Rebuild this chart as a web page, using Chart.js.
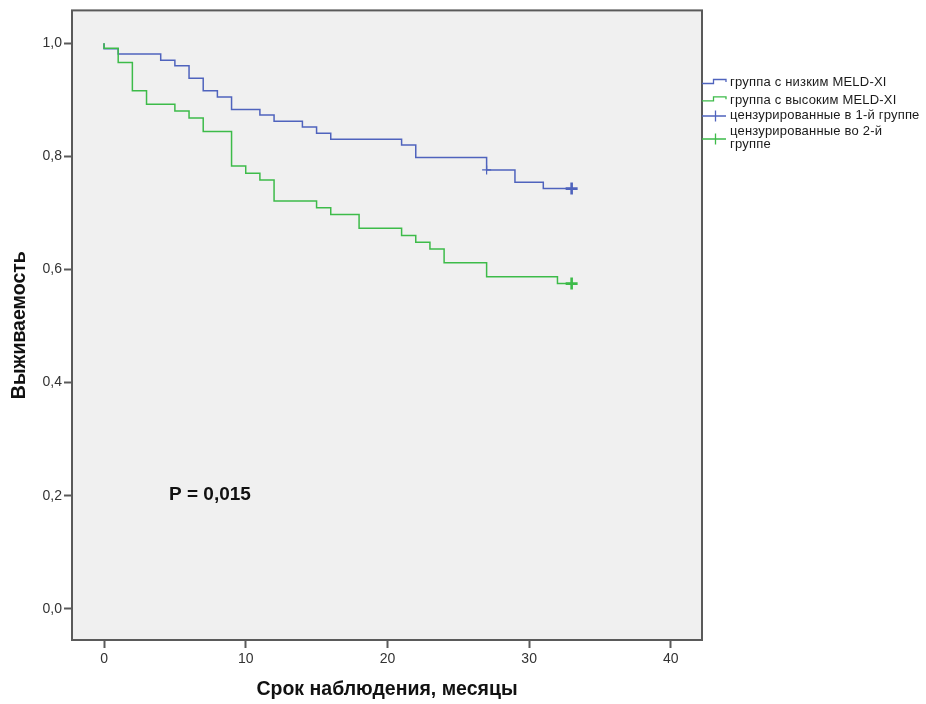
<!DOCTYPE html>
<html lang="ru">
<head>
<meta charset="utf-8">
<title>Выживаемость</title>
<script src="https://cdn.jsdelivr.net/npm/chart.js@4/dist/chart.umd.min.js"></script>
<style>
  html, body { margin: 0; padding: 0; background: #ffffff; }
  #wrap { width: 926px; height: 704px; }
</style>
</head>
<body>
<div id="wrap"><canvas id="km" width="926" height="704"></canvas></div>
<script>
// Kaplan–Meier estimates: event times (months) and survival after each step
const lowTimes  = [0, 0, 1, 4, 5, 6, 7, 8, 9, 11, 12, 14, 15, 16, 21, 22, 27, 29, 31, 33];
const lowSurv   = [1.0, 0.990, 0.981, 0.970, 0.960, 0.938, 0.916, 0.905, 0.883, 0.873, 0.862, 0.852, 0.841, 0.830, 0.820, 0.798, 0.776, 0.754, 0.743, 0.743];

const highTimes = [0, 0, 1, 2, 3, 5, 6, 7, 9, 10, 11, 12, 15, 16, 18, 21, 22, 23, 24, 27, 32, 33];
const highSurv  = [1.0, 0.991, 0.966, 0.916, 0.892, 0.880, 0.868, 0.844, 0.783, 0.770, 0.758, 0.721, 0.709, 0.697, 0.673, 0.660, 0.648, 0.636, 0.612, 0.587, 0.575, 0.575];

// censored observations
const censLowTimes  = [27, 33];
const censLowSurv   = [0.776, 0.743];
const censHighTimes = [33];
const censHighSurv  = [0.575];

const xTickValues = [0, 10, 20, 30, 40];
const yTickValues = [0, 0.2, 0.4, 0.6, 0.8, 1.0];

const legendLabels = [
  'группа с низким MELD-XI',
  'группа с высоким MELD-XI',
  'цензурированные в 1-й группе',
  'цензурированные во 2-й группе'
];
const xTitle = 'Срок наблюдения, месяцы';
const yTitle = 'Выживаемость';
const pText  = 'P = 0,015';

const BLUE  = '#4f63bd';
const GREEN = '#3dbb49';
const FONT  = '"Liberation Sans", Arial, sans-serif';

const pts = (xs, ys) => xs.map((x, i) => ({ x: x, y: ys[i] }));

// frame, axis titles, p-value and the legend on the right
const decor = {
  id: 'decor',
  beforeDatasetsDraw(chart) {
    const { ctx, chartArea: a } = chart;
    ctx.save();
    ctx.fillStyle = '#f0f0f0';
    ctx.fillRect(a.left, a.top, a.right - a.left, a.bottom - a.top);
    ctx.restore();
  },
  afterDraw(chart) {
    const { ctx, chartArea: a } = chart;
    ctx.save();
    // box around the plot
    ctx.strokeStyle = '#5a5a5a';
    ctx.lineWidth = 2;
    ctx.strokeRect(a.left, a.top, a.right - a.left, a.bottom - a.top);

    // axis titles
    ctx.fillStyle = '#111';
    ctx.font = 'bold 19.5px ' + FONT;
    ctx.textAlign = 'center';
    ctx.textBaseline = 'middle';
    ctx.fillText(xTitle, (a.left + a.right) / 2, 690);
    ctx.save();
    ctx.translate(20, (a.top + a.bottom) / 2);
    ctx.rotate(-Math.PI / 2);
    ctx.fillText(yTitle, 0, 0);
    ctx.restore();

    // p-value
    ctx.font = 'bold 19px ' + FONT;
    ctx.textAlign = 'left';
    ctx.fillText(pText, 169, 495);

    // legend
    const lx0 = 702, lx1 = 726, tx = 730;
    ctx.lineWidth = 1.3;
    const step = (y, c) => {
      ctx.strokeStyle = c;
      ctx.beginPath();
      ctx.moveTo(lx0, y + 1);
      ctx.lineTo(713.5, y + 1);
      ctx.lineTo(713.5, y - 3);
      ctx.lineTo(lx1, y - 3);
      ctx.lineTo(lx1, y - 0.5);
      ctx.stroke();
    };
    const cross = (y, c) => {
      ctx.strokeStyle = c;
      ctx.beginPath();
      ctx.moveTo(lx0, y);
      ctx.lineTo(lx1, y);
      ctx.moveTo(715.5, y - 5.5);
      ctx.lineTo(715.5, y + 5.5);
      ctx.stroke();
    };
    step(82.5, BLUE);
    step(99.8, GREEN);
    cross(116, BLUE);
    cross(139, GREEN);

    ctx.fillStyle = '#1a1a1a';
    ctx.font = '13px ' + FONT;
    ctx.letterSpacing = '0.2px';
    ctx.textBaseline = 'middle';
    ctx.fillText(legendLabels[0], tx, 82.7);
    ctx.fillText(legendLabels[1], tx, 100);
    ctx.fillText(legendLabels[2], tx, 115.5);
    const parts = legendLabels[3].split(' ');
    ctx.fillText(parts.slice(0, 3).join(' '), tx, 131.7);
    ctx.fillText(parts.slice(3).join(' '), tx, 144.5);
    ctx.restore();
  }
};

new Chart(document.getElementById('km'), {
  type: 'scatter',
  data: {
    datasets: [
      {
        label: legendLabels[0],
        data: pts(lowTimes, lowSurv),
        order: 2,
        showLine: true,
        stepped: 'before',
        borderColor: BLUE,
        borderWidth: 1.5,
        pointRadius: 0,
        fill: false
      },
      {
        label: legendLabels[1],
        data: pts(highTimes, highSurv),
        order: 1,
        showLine: true,
        stepped: 'before',
        borderColor: GREEN,
        borderWidth: 1.5,
        pointRadius: 0,
        fill: false
      },
      {
        label: legendLabels[2],
        data: pts(censLowTimes, censLowSurv),
        order: 0,
        showLine: false,
        pointStyle: 'cross',
        pointRadius: (c) => c.dataIndex === 0 ? 4.5 : 6,
        pointBorderWidth: (c) => c.dataIndex === 0 ? 1.2 : 2.6,
        borderColor: BLUE,
        pointBorderColor: BLUE
      },
      {
        label: legendLabels[3],
        data: pts(censHighTimes, censHighSurv),
        order: 0,
        showLine: false,
        pointStyle: 'cross',
        pointRadius: 6,
        pointBorderWidth: 2.6,
        borderColor: GREEN,
        pointBorderColor: GREEN
      }
    ]
  },
  options: {
    responsive: false,
    animation: false,
    events: [],
    layout: { padding: { left: 0, top: 10, right: 224, bottom: 0 } },
    plugins: {
      legend: { display: false },
      title: { display: false },
      tooltip: { enabled: false }
    },
    scales: {
      x: {
        type: 'linear',
        min: -2.26,
        max: 42.2,
        afterFit(s) { s.height = 64; },
        afterBuildTicks(s) { s.ticks = xTickValues.map(v => ({ value: v })); },
        grid: {
          drawOnChartArea: false,
          drawTicks: true,
          tickLength: 8,
          tickWidth: 2,
          tickColor: '#5a5a5a'
        },
        border: { display: false },
        ticks: {
          padding: 3,
          color: '#333',
          font: { family: FONT, size: 14 },
          callback: (v) => String(v)
        }
      },
      y: {
        type: 'linear',
        min: -0.055,
        max: 1.058,
        afterFit(s) { s.width = 72; },
        afterBuildTicks(s) { s.ticks = yTickValues.map(v => ({ value: v })); },
        grid: {
          drawOnChartArea: false,
          drawTicks: true,
          tickLength: 8,
          tickWidth: 2,
          tickColor: '#5a5a5a'
        },
        border: { display: false },
        ticks: {
          padding: 2,
          color: '#333',
          font: { family: FONT, size: 14 },
          callback: (v) => v.toFixed(1).replace('.', ',')
        }
      }
    }
  },
  plugins: [decor]
});
</script>
</body>
</html>
